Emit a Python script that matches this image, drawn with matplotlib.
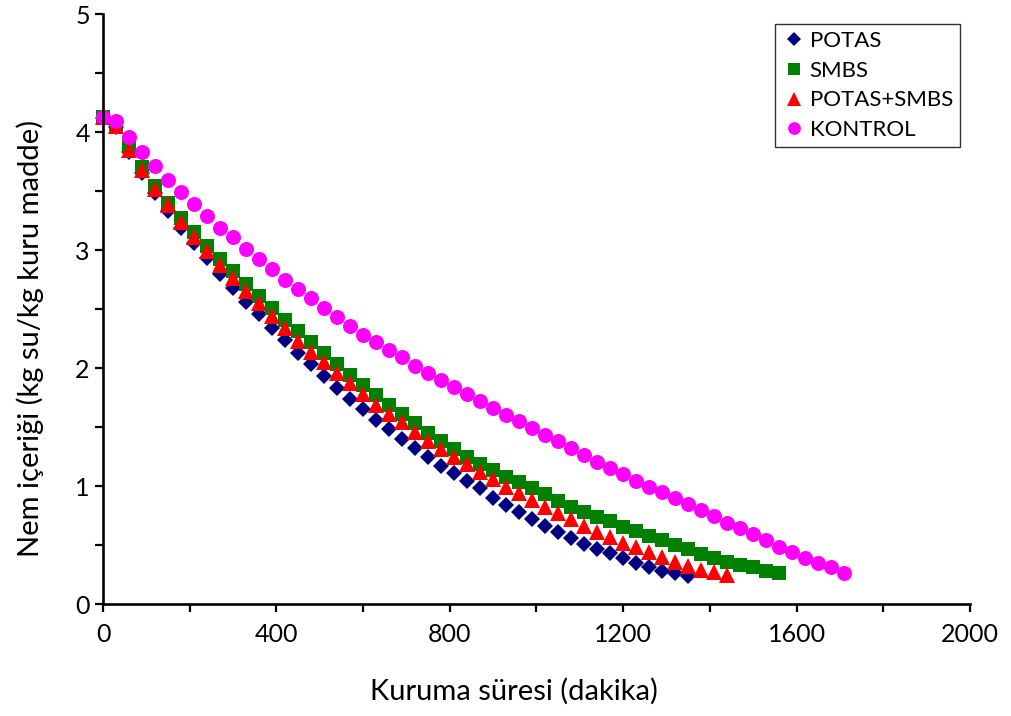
import numpy as np
import matplotlib
matplotlib.use("Agg")
import matplotlib.pyplot as plt

plt.rcParams['font.family'] = ['Lato', 'DejaVu Sans']

step = 30  # minutes between readings

potas = [4.12, 4.04, 3.83, 3.65, 3.48, 3.33, 3.19, 3.06, 2.93, 2.80,
         2.68, 2.56, 2.46, 2.34, 2.24, 2.13, 2.03, 1.93, 1.83, 1.74,
         1.65, 1.56, 1.48, 1.40, 1.32, 1.25, 1.17, 1.11, 1.04, 0.98,
         0.90, 0.84, 0.78, 0.72, 0.66, 0.61, 0.56, 0.51, 0.47, 0.43,
         0.39, 0.35, 0.31, 0.28, 0.26, 0.24]

smbs = [4.13, 4.07, 3.88, 3.70, 3.54, 3.40, 3.27, 3.15, 3.03, 2.92,
        2.82, 2.71, 2.61, 2.51, 2.41, 2.31, 2.22, 2.13, 2.03, 1.94,
        1.86, 1.77, 1.69, 1.61, 1.53, 1.45, 1.38, 1.31, 1.25, 1.19,
        1.14, 1.08, 1.03, 0.98, 0.93, 0.87, 0.82, 0.78, 0.74, 0.70,
        0.65, 0.62, 0.58, 0.54, 0.50, 0.47, 0.42, 0.39, 0.36, 0.33,
        0.31, 0.28, 0.26]

potas_smbs = [4.13, 4.05, 3.85, 3.68, 3.52, 3.38, 3.24, 3.11, 2.99, 2.87,
              2.76, 2.65, 2.55, 2.44, 2.34, 2.23, 2.14, 2.05, 1.96, 1.87,
              1.78, 1.69, 1.61, 1.54, 1.46, 1.38, 1.31, 1.25, 1.19, 1.12,
              1.06, 0.99, 0.94, 0.88, 0.82, 0.77, 0.72, 0.66, 0.61, 0.57,
              0.52, 0.48, 0.44, 0.40, 0.36, 0.32, 0.29, 0.27, 0.25]

kontrol = [4.13, 4.09, 3.96, 3.83, 3.71, 3.59, 3.49, 3.39, 3.29, 3.19,
           3.11, 3.01, 2.92, 2.84, 2.75, 2.67, 2.59, 2.51, 2.43, 2.36,
           2.28, 2.22, 2.15, 2.09, 2.02, 1.96, 1.90, 1.84, 1.78, 1.72,
           1.66, 1.60, 1.55, 1.49, 1.43, 1.38, 1.32, 1.26, 1.20, 1.15,
           1.10, 1.04, 0.99, 0.95, 0.90, 0.85, 0.80, 0.75, 0.69, 0.64,
           0.59, 0.54, 0.48, 0.44, 0.39, 0.35, 0.31, 0.26]

series_names = ['POTAS', 'SMBS', 'POTAS+SMBS', 'KONTROL']
x_label = 'Kuruma süresi (dakika)'
y_label = 'Nem içeriği (kg su/kg kuru madde)'

fig = plt.figure(figsize=(10.11, 7.16), dpi=100)
ax = fig.add_axes([0.1019, 0.1564, 0.8575, 0.8240])

styles = [
    dict(marker='D', color='#000080', ms=7.8),
    dict(marker='s', color='#008000', ms=9.6),
    dict(marker='^', color='#FF0000', ms=11.2),
    dict(marker='o', color='#FF00FF', ms=10.8),
]
for name, vals, st in zip(series_names, [potas, smbs, potas_smbs, kontrol], styles):
    t = np.arange(len(vals)) * step
    ax.plot(t, vals, linestyle='none', marker=st['marker'], color=st['color'],
            markersize=st['ms'], markeredgewidth=0, label=name, clip_on=False)

ax.set_xlim(0, 2000)
ax.set_ylim(0, 5)
ax.set_xticks(np.arange(0, 2001, 200))
ax.set_xticklabels([str(v) if v % 400 == 0 else '' for v in range(0, 2001, 200)])
ax.set_yticks(np.arange(0, 5.01, 0.5))
ax.set_yticklabels([str(int(v)) if v == int(v) else '' for v in np.arange(0, 5.01, 0.5)])

for s in ['top', 'right']:
    ax.spines[s].set_visible(False)
for s in ['left', 'bottom']:
    ax.spines[s].set_linewidth(1.9)
ax.tick_params(direction='out', length=5.5, width=1.6, labelsize=18, colors='black')
ax.tick_params(axis='x', pad=8)
ax.tick_params(axis='y', pad=4)

ax.set_xlabel(x_label, fontsize=21)
ax.set_ylabel(y_label, fontsize=21)
ax.xaxis.set_label_coords(0.474, -0.125)
ax.yaxis.set_label_coords(-0.068, 0.45)

leg = ax.legend(loc='upper right', bbox_to_anchor=(0.988, 0.983), fontsize=16,
                frameon=True, fancybox=False, edgecolor='black', borderaxespad=0,
                handletextpad=0.15, handlelength=1.1, labelspacing=0.44,
                borderpad=0.3, markerscale=0.85)
leg.get_frame().set_linewidth(1.0)

fig.savefig('out.png', dpi=100)
